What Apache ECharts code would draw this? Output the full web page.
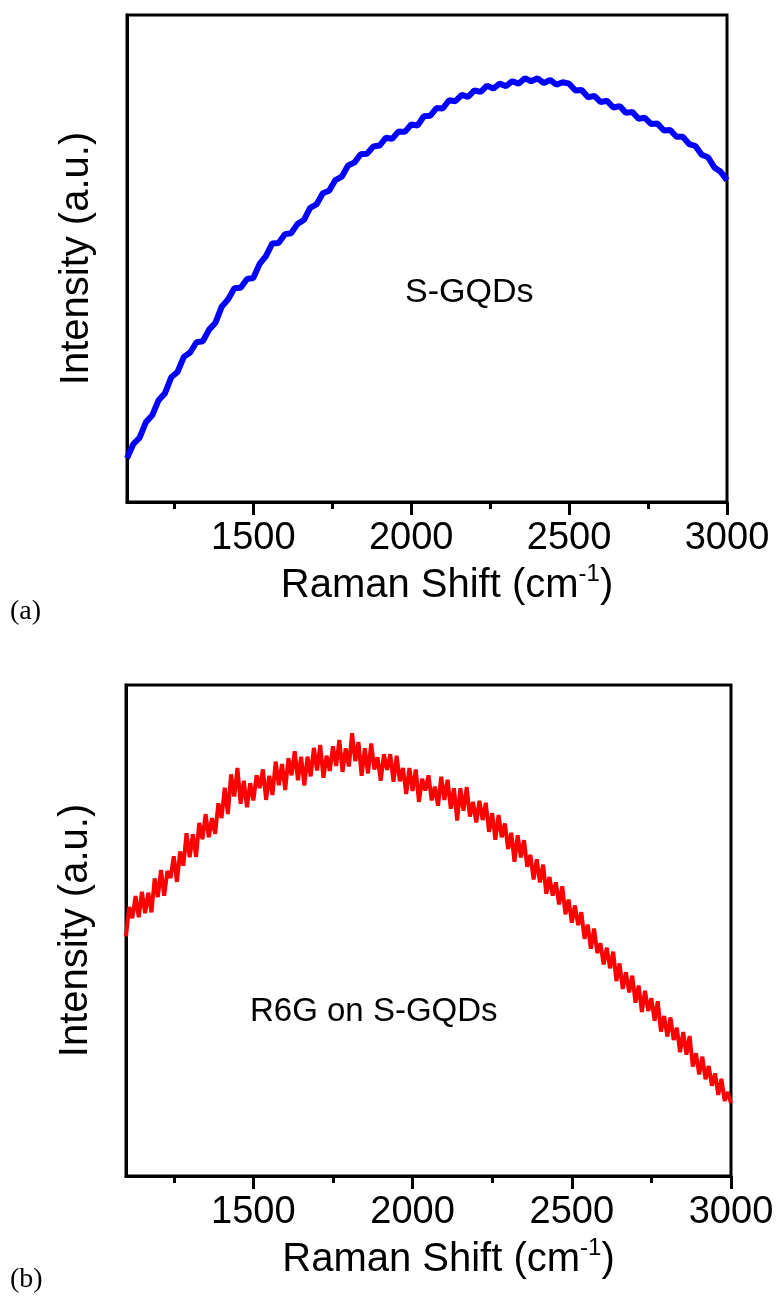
<!DOCTYPE html>
<html><head><meta charset="utf-8">
<script src="https://cdn.jsdelivr.net/npm/echarts@6/dist/echarts.min.js"></script>
<style>html,body{margin:0;padding:0;background:#fff}#c{width:784px;height:1298px}</style>
</head><body><div id="c"></div>
<script>
// ---- data (arbitrary intensity units 0-100) ----
const shiftMin = 1100, shiftMax = 3000;
const shiftStartA = 1100, shiftStepA = 20;   // S-GQDs spectrum sampling (cm-1)
const intensityA = [
  9.0, 11.9, 13.2, 16.4, 17.8,
  20.9, 22.3, 25.6, 26.7, 29.8,
  30.7, 32.8, 33.0, 35.4, 36.8,
  40.1, 41.6, 43.9, 44.0, 45.8,
  46.0, 48.9, 50.5, 53.1, 53.2,
  55.0, 55.2, 57.1, 57.9, 60.4,
  61.1, 63.4, 63.9, 66.1, 66.8,
  69.1, 69.7, 71.4, 71.5, 73.0,
  73.2, 74.8, 74.6, 76.1, 76.0,
  77.5, 77.3, 79.2, 79.3, 80.9,
  80.8, 82.5, 82.3, 83.6, 83.2,
  84.5, 84.2, 85.5, 84.9, 85.9,
  85.4, 86.4, 85.9, 87.0, 86.4,
  87.0, 86.0, 86.7, 85.7, 86.2,
  85.9, 84.5, 84.6, 83.1, 83.4,
  82.1, 82.4, 81.0, 81.3, 79.9,
  80.1, 78.7, 78.9, 77.6, 77.7,
  76.3, 76.4, 75.0, 75.0, 73.5,
  73.1, 71.3, 70.8, 68.7, 67.8,
  66.1
];
const shiftStartB = 1100, shiftStepB = 10;   // R6G on S-GQDs spectrum sampling (cm-1)
const intensityB = [
  48.8, 54.8, 52.5, 57.0, 52.7,  57.9, 53.5, 57.7, 53.7, 60.6,
  56.8, 62.3, 57.1, 62.1, 60.7,  65.1, 59.9, 66.1, 63.2, 69.8,
  64.9, 69.6, 65.0, 71.9, 68.6,  73.7, 69.0, 72.9, 69.7, 75.9,
  72.9, 79.1, 73.7, 81.8, 77.3,  83.1, 75.8, 80.5, 75.1, 80.0,
  76.5, 81.6, 79.0, 82.8, 76.6,  81.5, 77.6, 84.4, 79.6, 83.9,
  78.6, 85.1, 81.6, 86.5, 80.6,  85.4, 79.5, 85.4, 81.4, 87.2,
  82.6, 87.8, 81.1, 85.6, 82.5,  87.5, 83.5, 88.8, 82.3, 87.1,
  83.4, 90.2, 84.5, 88.4, 81.5,  87.1, 82.0, 88.1, 82.8, 85.3,
  80.5, 85.9, 82.7, 85.9, 80.3,  85.6, 80.4, 83.1, 77.8, 83.1,
  78.4, 82.8, 76.2, 80.9, 78.5,  81.6, 76.5, 79.3, 75.4, 81.3,
  76.6, 80.7, 74.8, 79.0, 72.4,  79.0, 74.4, 79.2, 73.2, 76.2,
  72.0, 76.4, 72.5, 76.0, 70.1,  73.9, 68.5, 73.5, 69.0, 71.8,
  66.6, 69.9, 64.0, 69.4, 64.9,  68.4, 63.0, 65.4, 60.4, 64.5,
  59.8, 63.4, 57.5, 60.9, 57.1,  59.8, 55.3, 59.0, 53.3, 56.3,
  51.6, 55.1, 51.1, 53.7, 48.3,  51.2, 46.3, 50.4, 45.4, 47.4,
  43.1, 46.5, 42.3, 45.7, 39.7,  43.3, 38.1, 41.5, 37.4, 40.8,
  35.3, 38.8, 33.4, 37.7, 33.6,  36.2, 31.6, 35.6, 29.4, 32.6,
  28.4, 32.3, 27.7, 30.2, 25.2,  29.3, 24.7, 28.5, 22.3, 25.0,
  20.7, 24.3, 19.7, 22.4, 18.4,  20.9, 16.5, 19.8, 15.3, 17.1,
  14.8
];
const majorTicks = [1500, 2000, 2500, 3000];
const minorTicks = [1250, 1750, 2250, 2750];
const xTitle = '{t|Raman Shift (cm}{s|-1}{t|)}';
const yTitle = 'Intensity (a.u.)';
const noteA = 'S-GQDs';
const noteB = 'R6G on S-GQDs';
const panelA = '(a)', panelB = '(b)';

// ---- chart ----
const FF = '"Liberation Sans", Arial, sans-serif';
const black = '#000';
const seriesA = intensityA.map((v, i) => [shiftStartA + i * shiftStepA, v]);
const seriesB = intensityB.map((v, i) => [shiftStartB + i * shiftStepB, v]);

function majorX(gi, gap) {
  return {
    type: 'value', gridIndex: gi, min: shiftMin, max: shiftMax, position: 'bottom',
    axisLine: { show: true, onZero: false, lineStyle: { color: black, width: 3 } },
    axisTick: { show: true, customValues: majorTicks, length: 13, lineStyle: { color: black, width: 3 } },
    axisLabel: { show: true, customValues: majorTicks, margin: 18, fontSize: 38, color: black, fontFamily: FF,
                 formatter: v => String(v) },
    splitLine: { show: false },
    name: xTitle, nameLocation: 'middle', nameGap: gap,
    nameTextStyle: {
      padding: [0, 0, 0, 40],
      rich: {
        t: { fontSize: 40, lineHeight: 48, color: black, fontFamily: FF },
        s: { fontSize: 24, lineHeight: 24, color: black, fontFamily: FF, verticalAlign: 'top' }
      }
    }
  };
}
function minorX(gi) {
  return {
    type: 'value', gridIndex: gi, min: shiftMin, max: shiftMax, position: 'bottom', offset: 0,
    axisLine: { show: false, onZero: false },
    axisTick: { show: true, customValues: minorTicks, length: 7, lineStyle: { color: black, width: 3 } },
    axisLabel: { show: false }, splitLine: { show: false }
  };
}
function yAx(gi) {
  return {
    type: 'value', gridIndex: gi, min: 0, max: 100,
    axisLine: { show: true, lineStyle: { color: black, width: 3 } },
    axisTick: { show: false }, axisLabel: { show: false }, splitLine: { show: false },
    name: yTitle, nameLocation: 'middle', nameGap: 30,
    nameTextStyle: { fontSize: 40, color: black, fontFamily: FF }
  };
}

const chart = echarts.init(document.getElementById('c'), null, { renderer: 'canvas' });
chart.setOption({
  animation: false,
  backgroundColor: '#fff',
  grid: [
    { left: 127, top: 15, width: 600, height: 487, show: true, borderColor: black, borderWidth: 3, containLabel: false },
    { left: 126, top: 685, width: 605, height: 491, show: true, borderColor: black, borderWidth: 3, containLabel: false }
  ],
  xAxis: [majorX(0, 60), minorX(0), majorX(1, 60), minorX(1)],
  yAxis: [yAx(0), yAx(1)],
  series: [
    { type: 'line', xAxisIndex: 0, yAxisIndex: 0, data: seriesA, symbol: 'none', smooth: false,
      lineStyle: { color: '#0000ff', width: 6 }, itemStyle: { color: '#0000ff' } },
    { type: 'line', xAxisIndex: 2, yAxisIndex: 1, data: seriesB, symbol: 'none', smooth: false,
      lineStyle: { color: '#ff0000', width: 4 }, itemStyle: { color: '#ff0000' } }
  ],
  graphic: [
    { type: 'text', left: 405, top: 276, style: { text: noteA, font: '34px ' + FF, fill: black } },
    { type: 'text', left: 250, top: 995, style: { text: noteB, font: '33px ' + FF, fill: black } },
    { type: 'text', left: 10, top: 598, style: { text: panelA, font: '28px "Liberation Serif", "Times New Roman", serif', fill: black } },
    { type: 'text', left: 10, top: 1266, style: { text: panelB, font: '28px "Liberation Serif", "Times New Roman", serif', fill: black } }
  ]
});
</script>
</body></html>
